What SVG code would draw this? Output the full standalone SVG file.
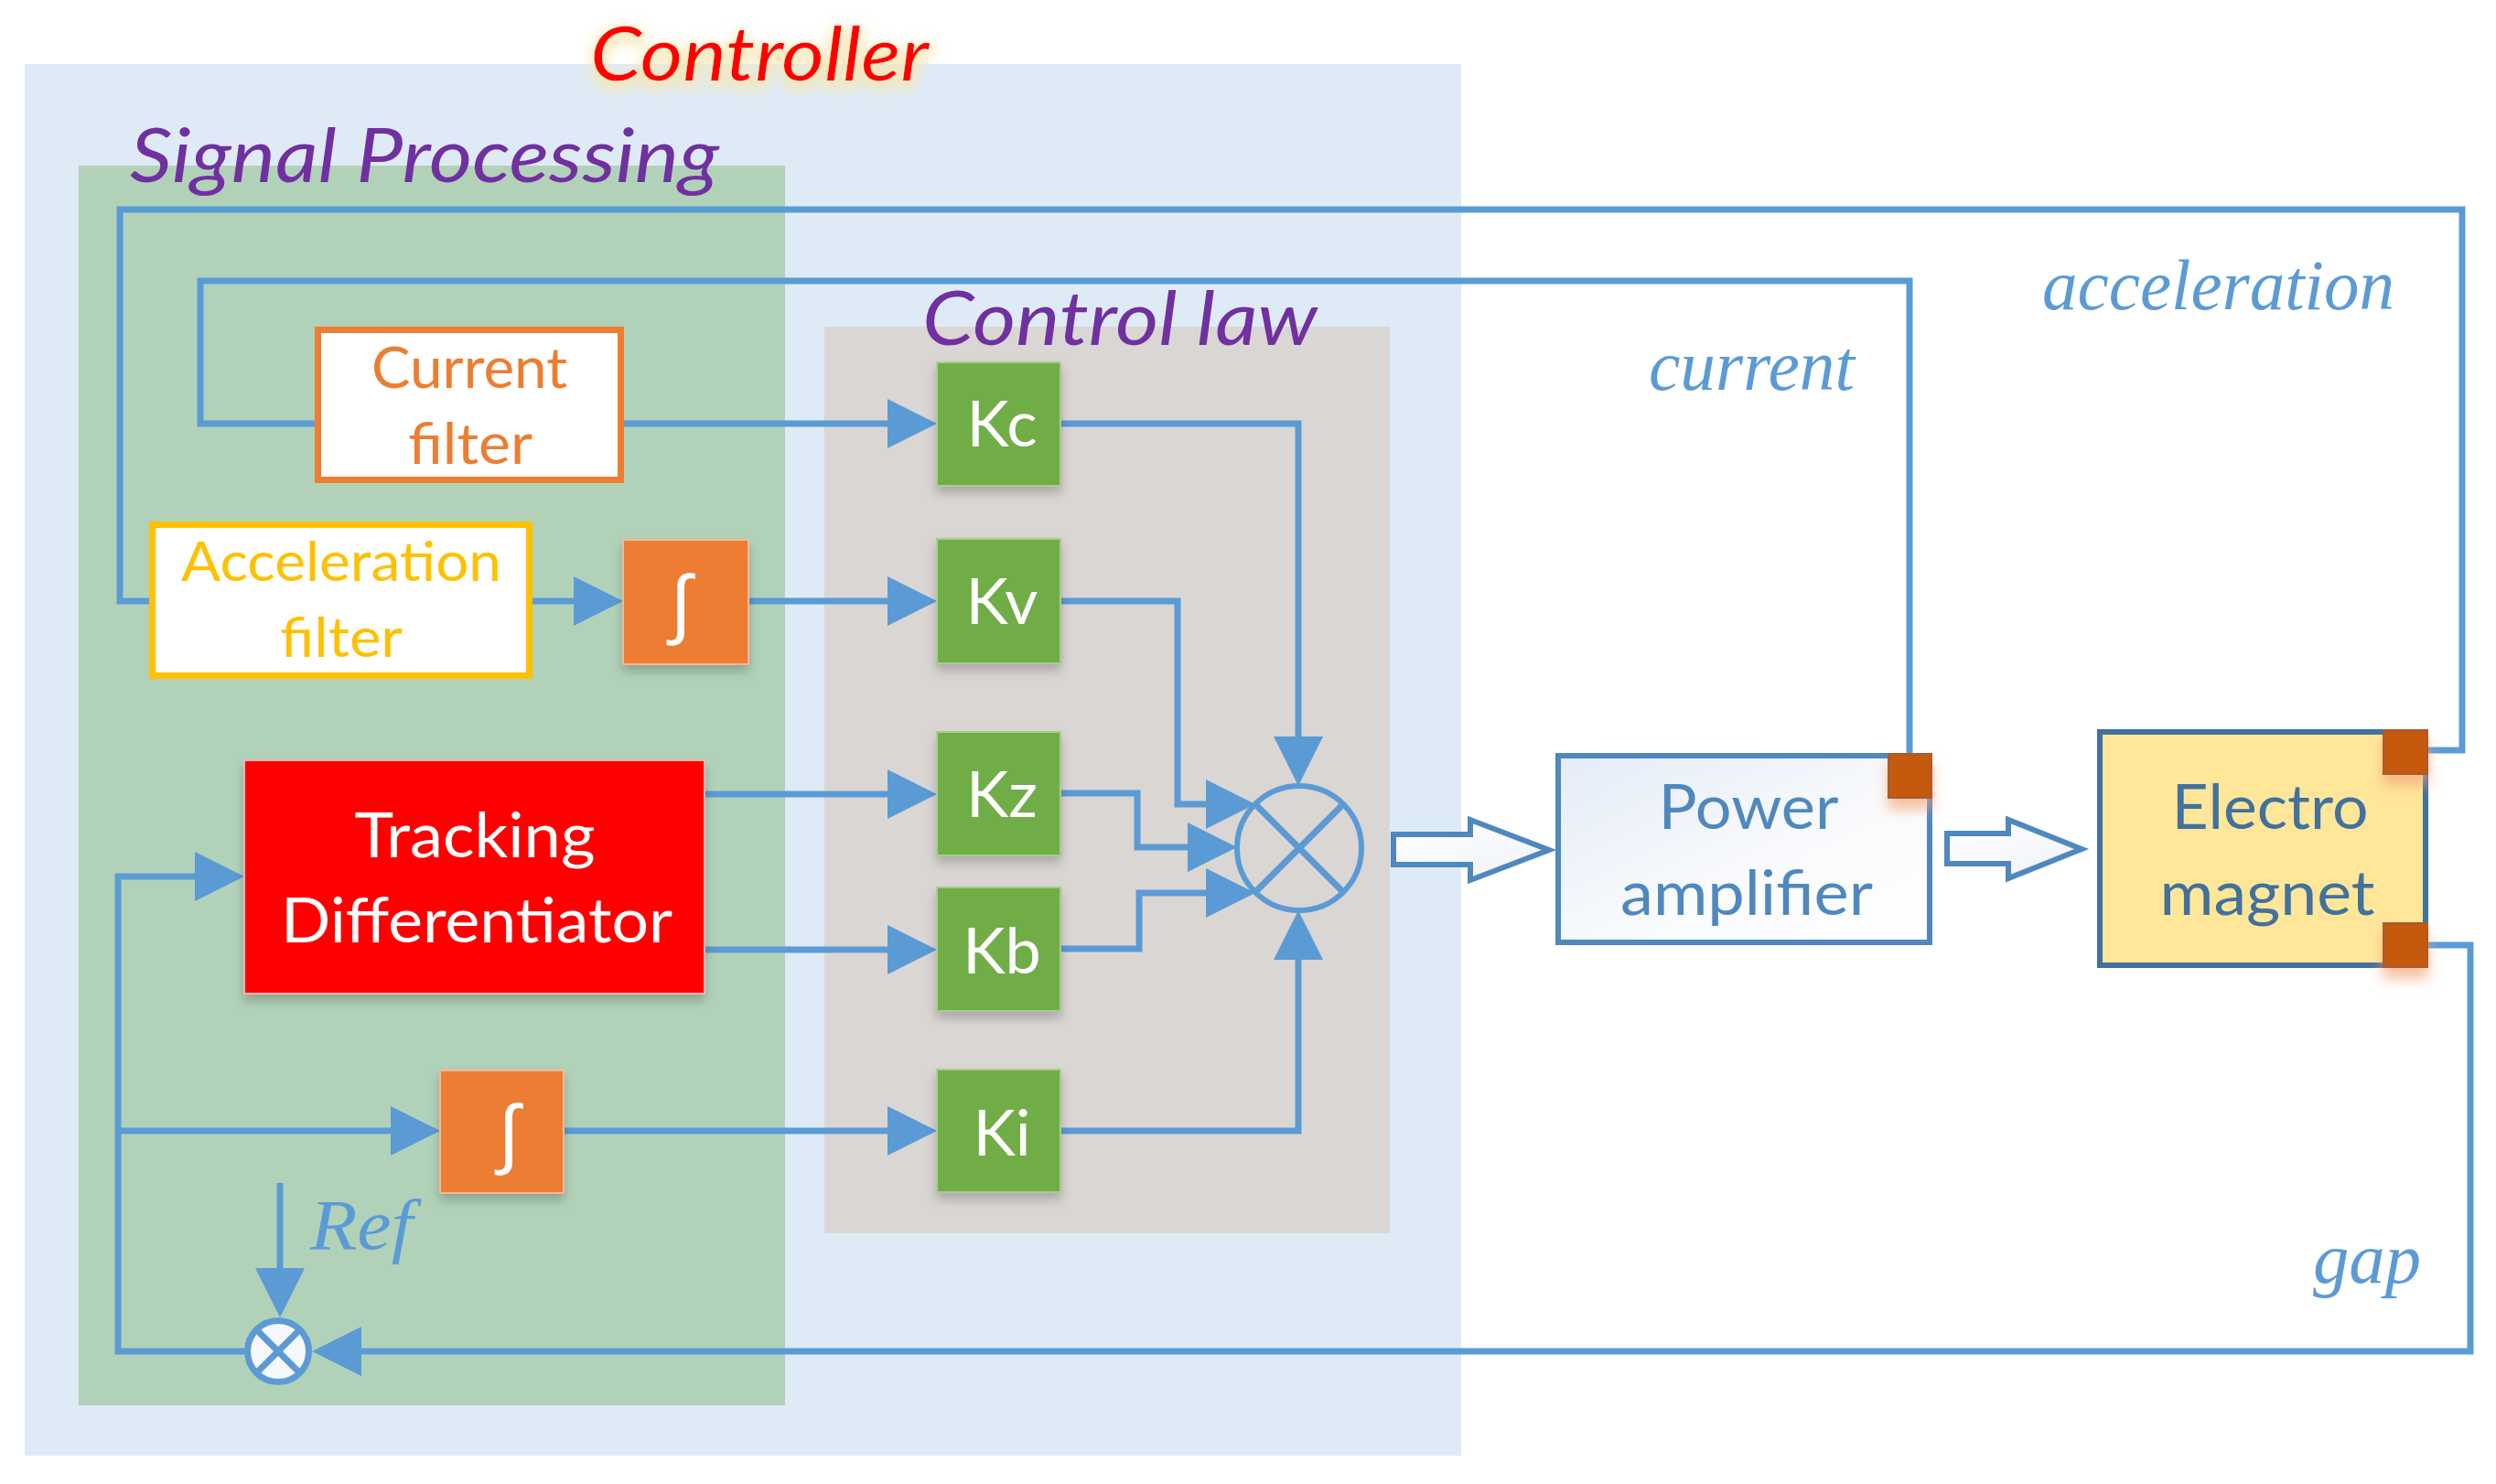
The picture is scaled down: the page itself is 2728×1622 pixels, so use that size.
<svg xmlns="http://www.w3.org/2000/svg" width="2728" height="1622" viewBox="0 0 2728 1622">
<defs>
<style>
.conn{fill:none;stroke:#5B9BD5;stroke-width:7;stroke-linejoin:miter;stroke-linecap:butt}
.arr{marker-end:url(#ah)}
.box{font-family:Lato,'Open Sans',sans-serif}
.head{font-family:Lato,'Open Sans',sans-serif;font-style:italic;font-size:81px;fill:#7030A0}
.lbl{font-family:'Liberation Serif','Times New Roman',serif;font-style:italic;font-size:78px;fill:#5B9BD5}
.ktxt{font-family:Lato,'Open Sans',sans-serif;font-size:70px;fill:#FFFFFF;text-anchor:middle}
.kbox{fill:#70AD47;stroke:#A8CC92;stroke-width:2}
.ibox{fill:#ED7D31;stroke:#F4B896;stroke-width:2}
.int{font-family:'DejaVu Sans',sans-serif;font-size:84px;font-weight:300;fill:#FFFFFF;text-anchor:middle}
.port{fill:#C55A11;stroke:#B05A25;stroke-width:3}
.barrow{fill:url(#bg);stroke:#4F88BE;stroke-width:6;stroke-linejoin:miter}
</style>
<marker id="ah" markerUnits="userSpaceOnUse" markerWidth="56" markerHeight="56" refX="44" refY="27" orient="auto">
<path d="M0,0 L54,27 L0,54 Z" fill="#5B9BD5"/>
</marker>
<filter id="sh" x="-20%" y="-20%" width="140%" height="150%">
<feDropShadow dx="0" dy="7" stdDeviation="6" flood-color="#000000" flood-opacity="0.22"/>
</filter>
<filter id="psh" x="-50%" y="-50%" width="200%" height="220%">
<feDropShadow dx="0" dy="12" stdDeviation="7" flood-color="#F4A77A" flood-opacity="0.7"/>
</filter>
<filter id="glow" x="-10%" y="-30%" width="120%" height="170%">
<feMorphology in="SourceAlpha" operator="dilate" radius="4" result="d"/>
<feGaussianBlur in="d" stdDeviation="7" result="b"/>
<feFlood flood-color="#F6E7B4" flood-opacity="0.9"/>
<feComposite in2="b" operator="in" result="g"/>
<feOffset in="g" dy="6" result="go"/>
<feMerge><feMergeNode in="go"/><feMergeNode in="SourceGraphic"/></feMerge>
</filter>
<linearGradient id="pa" x1="0" y1="0" x2="1" y2="1">
<stop offset="0" stop-color="#E4ECF7"/>
<stop offset="0.6" stop-color="#FAFBFD"/>
<stop offset="1" stop-color="#FFFFFF"/>
</linearGradient>
<linearGradient id="bg" x1="0" y1="0" x2="1" y2="1">
<stop offset="0" stop-color="#FFFFFF"/>
<stop offset="1" stop-color="#EEF2F9"/>
</linearGradient>
</defs>

<g id="controller">
<rect x="27" y="70" width="1570" height="1521" fill="#DEEBF7"/>
<text x="645" y="88" class="box" font-style="italic" font-size="81" fill="#FF0000" textLength="370" lengthAdjust="spacingAndGlyphs" filter="url(#glow)">Controller</text>
</g>

<g id="signal-processing">
<rect x="86" y="181" width="772" height="1355" fill="#B1D2B9"/>
<text x="142" y="199" class="head" textLength="644" lengthAdjust="spacingAndGlyphs">Signal Processing</text>
</g>

<g id="control-law">
<rect x="901" y="357" width="618" height="991" fill="#DAD6D3"/>
<text x="1008" y="377" class="head" textLength="432" lengthAdjust="spacingAndGlyphs">Control law</text>
</g>

<g id="connectors">
<path class="conn" d="M2654,820 H2691 V229 H131 V657 H163"/>
<path class="conn" d="M2087,823 V307 H219 V463 H344"/>
<path class="conn arr" d="M682,463 H1014"/>
<path class="conn arr" d="M582,657 H671"/>
<path class="conn arr" d="M818,657 H1014"/>
<path class="conn arr" d="M770,868 H1014"/>
<path class="conn arr" d="M770,1038 H1014"/>
<path class="conn arr" d="M616,1236 H1014"/>
<path class="conn arr" d="M1159,463 H1419 V849"/>
<path class="conn arr" d="M1159,657 H1287 V879 H1362"/>
<path class="conn arr" d="M1159,867 H1243 V926 H1342"/>
<path class="conn arr" d="M1159,1037 H1245 V976 H1362"/>
<path class="conn arr" d="M1159,1236 H1419 V1005"/>
<path class="conn arr" d="M2654,1033 H2700 V1477 H351"/>
<path class="conn arr" d="M306,1293 V1430"/>
<path class="conn arr" d="M267,1477 H129 V958 H257"/>
<path class="conn arr" d="M129,1236 H471"/>
<polygon class="barrow" points="1523,912 1607,912 1607,896 1693,929 1607,962 1607,945 1523,945"/>
<polygon class="barrow" points="2128,911 2195,911 2195,896 2275,928 2195,960 2195,944 2128,944"/>
</g>

<g id="current-filter">
<rect x="347.5" y="360.5" width="331" height="164" fill="#FFFFFF" stroke="#ED7D31" stroke-width="7"/>
<text class="box" font-size="61" fill="#ED7D31" text-anchor="middle"><tspan x="513" y="424" textLength="214" lengthAdjust="spacingAndGlyphs">Current</tspan><tspan x="514" y="507" textLength="136" lengthAdjust="spacingAndGlyphs">filter</tspan></text>
</g>

<g id="acceleration-filter">
<rect x="166.5" y="573.5" width="412" height="165" fill="#FFFFFF" stroke="#FFC000" stroke-width="7"/>
<text class="box" font-size="60" fill="#FFC000" text-anchor="middle"><tspan x="373" y="635" textLength="350" lengthAdjust="spacingAndGlyphs">Acceleration</tspan><tspan x="373" y="718" textLength="134" lengthAdjust="spacingAndGlyphs">filter</tspan></text>
</g>

<g id="integrator-1">
<rect class="ibox" x="681" y="590" width="137" height="136" filter="url(#sh)"/>
<text class="int" x="744" y="688">∫</text>
</g>

<g id="tracking-differentiator">
<rect x="267" y="831" width="503" height="255" fill="#FF0000" stroke="#F7B3B3" stroke-width="2" filter="url(#sh)"/>
<text class="box" font-size="68" fill="#FFFFFF" text-anchor="middle"><tspan x="519" y="937" textLength="263" lengthAdjust="spacingAndGlyphs">Tracking</tspan><tspan x="521" y="1030" textLength="428" lengthAdjust="spacingAndGlyphs">Differentiator</tspan></text>
</g>

<g id="integrator-2">
<rect class="ibox" x="481" y="1170" width="135" height="134" filter="url(#sh)"/>
<text class="int" x="556" y="1267">∫</text>
</g>

<g id="Kc"><rect class="kbox" x="1024" y="396" width="135" height="135" filter="url(#sh)"/><text class="ktxt" x="1095" y="488">Kc</text></g>
<g id="Kv"><rect class="kbox" x="1024" y="589" width="135" height="136" filter="url(#sh)"/><text class="ktxt" x="1095" y="682">Kv</text></g>
<g id="Kz"><rect class="kbox" x="1024" y="800" width="135" height="135" filter="url(#sh)"/><text class="ktxt" x="1095" y="893">Kz</text></g>
<g id="Kb"><rect class="kbox" x="1024" y="970" width="135" height="135" filter="url(#sh)"/><text class="ktxt" x="1095" y="1064">Kb</text></g>
<g id="Ki"><rect class="kbox" x="1024" y="1169" width="135" height="134" filter="url(#sh)"/><text class="ktxt" x="1095" y="1263">Ki</text></g>

<g id="summing-junction">
<circle cx="1420" cy="927" r="68" fill="none" stroke="#5B9BD5" stroke-width="6"/>
<path d="M1372,879 L1468,975 M1468,879 L1372,975" stroke="#5B9BD5" stroke-width="7"/>
</g>

<g id="error-junction">
<circle cx="304" cy="1477" r="33.5" fill="#F7F8FB" stroke="#5B9BD5" stroke-width="7"/>
<path d="M280,1453 L328,1501 M328,1453 L280,1501" stroke="#5B9BD5" stroke-width="7"/>
<text class="lbl" x="339" y="1365" font-size="80" textLength="112" lengthAdjust="spacingAndGlyphs">Ref</text>
</g>

<g id="power-amplifier">
<rect x="1703" y="826" width="406" height="204" fill="url(#pa)" stroke="#4F88BE" stroke-width="6"/>
<rect class="port" x="2064.5" y="824.5" width="46" height="47" filter="url(#psh)"/>
<text class="box" font-size="67" fill="#4F88BE" text-anchor="middle"><tspan x="1911" y="906" textLength="197" lengthAdjust="spacingAndGlyphs">Power</tspan><tspan x="1909" y="1000" textLength="276" lengthAdjust="spacingAndGlyphs">amplifier</tspan></text>
</g>

<g id="electromagnet">
<rect x="2295" y="800" width="356" height="255" fill="#FFE699" stroke="#41719C" stroke-width="6"/>
<rect class="port" x="2605.5" y="798.5" width="47" height="47" filter="url(#psh)"/>
<rect class="port" x="2605.5" y="1009.5" width="47" height="47" filter="url(#psh)"/>
<text class="box" font-size="67" fill="#41719C" text-anchor="middle"><tspan x="2481" y="906" textLength="215" lengthAdjust="spacingAndGlyphs">Electro</tspan><tspan x="2478" y="1000" textLength="235" lengthAdjust="spacingAndGlyphs">magnet</tspan></text>
</g>

<g id="labels">
<text class="lbl" x="1802" y="426" textLength="225" lengthAdjust="spacingAndGlyphs">current</text>
<text class="lbl" x="2232" y="338" textLength="385" lengthAdjust="spacingAndGlyphs">acceleration</text>
<text class="lbl" x="2528" y="1402" font-size="80" textLength="118" lengthAdjust="spacingAndGlyphs">gap</text>
</g>
</svg>
